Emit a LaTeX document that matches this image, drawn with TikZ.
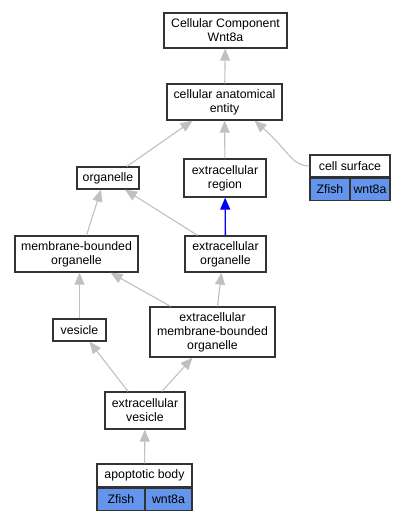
\documentclass[tikz,border=0pt]{standalone}
\usepackage{fontspec}
\setmainfont{Liberation Sans}
\usetikzlibrary{calc}
\usetikzlibrary{arrows.meta}
\definecolor{genefill}{HTML}{6495ED}
\definecolor{isagray}{RGB}{192,192,192}
\tikzset{
	every path/.style={line width=1.1pt},
	term/.style={
		draw=black!80,
		rectangle,
		align=center,
		inner sep=0pt,
		line width=1.3pt,
		font=\fontsize{12.3}{14}\selectfont,
	},
	gene/.style={
		term,
		fill=genefill,
		minimum height=22pt,
	},
	isa/.style={
		draw=isagray,
		-{Triangle[length=12pt,width=10pt]}
	},
	partof/.style={
		draw=blue,
		line width=1.3pt,
		-{Triangle[length=12pt,width=10pt]}
	},
}

\begin{document}
\begin{tikzpicture}[x=1pt,y=-1pt]
		\useasboundingbox (0,0) rectangle (409,520);

		\node[term, minimum width=123pt, minimum height=35pt] (ccw) at (225.5,30.5) {Cellular Component\\Wnt8a};
		\node[term, minimum width=115pt, minimum height=36pt] (cae) at (224.5,102) {cellular anatomical\\entity};

		\node[term, minimum width=62pt, minimum height=22pt] (org) at (108,178) {organelle};
		\node[term, minimum width=82pt, minimum height=38pt] (exreg) at (225,178) {extracellular\\region};

		\node[term, minimum width=80pt, minimum height=22pt] (cs) at (350,166) {cell surface};
		\node[gene, minimum width=40pt, anchor=north west] (csfish) at (cs.south west) {Zfish};
		\node[gene, minimum width=40pt, anchor=north east] (csgene) at (cs.south east) {wnt8a};

		\node[term, minimum width=123pt, minimum height=36pt] (mbo) at (76.5,254) {membrane-bounded\\organelle};
		\node[term, minimum width=81pt, minimum height=36pt] (exorg) at (225.5,254) {extracellular\\organelle};

		\node[term, minimum width=53pt, minimum height=22pt] (ves) at (79.5,330) {vesicle};
		\node[term, minimum width=125pt, minimum height=50pt] (emb) at (212.5,332) {extracellular\\membrane-bounded\\organelle};

		\node[term, minimum width=80pt, minimum height=37pt] (exves) at (145,410.5) {extracellular\\vesicle};

		\node[term, minimum width=95pt, minimum height=23pt] (ab) at (144.5,475.5) {apoptotic body};
		\node[gene, minimum width=48pt, anchor=north west] (abfish) at (ab.south west) {Zfish};
		\node[gene, minimum width=47pt, anchor=north east] (abgene) at (ab.south east) {wnt8a};

		\draw[isa] (cae) -- (ccw);
		\draw[isa] ($(org.north)+(19,0)$) -- ($(cae.south)+(-32,0)$);
		\draw[isa] (exreg) -- (cae);
		\draw[isa] (cs.west) .. controls (292,166) and (288,150) .. ($(cae.south)+(30,0)$);

		\draw[isa] ($(mbo.north)+(10,0)$) -- ($(org.south)+(-7,0)$);
		\draw[isa] ($(exorg.north)+(-28,0)$) -- ($(org.south)+(17,0)$);
		\draw[partof] (exorg) -- (exreg);

		\draw[isa] (ves.north) -- (ves.north |- mbo.south);
		\draw[isa] ($(emb.north)+(-42,0)$) -- ($(mbo.south)+(34,0)$);
		\draw[isa] ($(emb.north)+(5,0)$) -- ($(exorg.south)+(-4,0)$);

		\draw[isa] ($(exves.north)+(-17,0)$) -- ($(ves.south)+(10,0)$);
		\draw[isa] ($(exves.north)+(17,0)$) -- ($(emb.south)+(-20,0)$);

		\draw[isa] (ab) -- (exves);

	\end{tikzpicture}
\end{document}
